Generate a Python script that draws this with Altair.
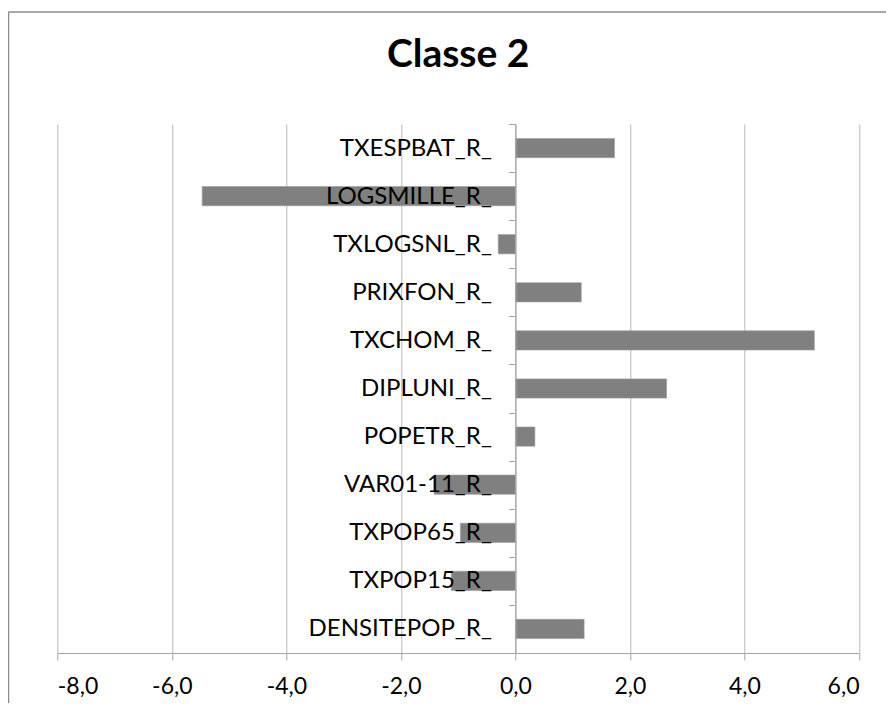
import altair as alt
import pandas as pd

categories = ["TXESPBAT_R_", "LOGSMILLE_R_", "TXLOGSNL_R_", "PRIXFON_R_", "TXCHOM_R_",
              "DIPLUNI_R_", "POPETR_R_", "VAR01-11_R_", "TXPOP65_R_", "TXPOP15_R_",
              "DENSITEPOP_R_"]
values = [1.73, -5.47, -0.30, 1.15, 5.22, 2.64, 0.34, -1.42, -0.96, -1.12, 1.20]
x_ticks = [-8, -6, -4, -2, 0, 2, 4, 6]
title_text = "Classe 2"

df = pd.DataFrame({"cat": categories, "val": values})

W = 801.7
H = 529.0
step = H / len(categories)
unit = W / 14.0

FONT = "Lato"

bars = alt.Chart(df).mark_bar(color="#808080", stroke="#9a9a9a", strokeWidth=0.6).encode(
    x=alt.X("val:Q",
            scale=alt.Scale(domain=[-8, 6], nice=False, zero=False),
            axis=alt.Axis(values=x_ticks, title=None, grid=True, gridColor="#b8b8b8",
                          gridWidth=1, domainColor="#a6a6a6", domainWidth=1.2,
                          tickColor="#a6a6a6", tickSize=7, labelPadding=15,
                          labelFont=FONT, labelFontSize=23, labelColor="#000000",
                          labelExpr="replace(replace(format(datum.value, '.1f'), '.', ','), '\u2212', '-')",
                          zindex=0)),
    y=alt.Y("cat:N", sort=categories,
            scale=alt.Scale(paddingInner=0.6, paddingOuter=0.3),
            axis=alt.Axis(title=None, grid=False, offset=-(8 * unit),
                          domainColor="#a6a6a6", domainWidth=1.2,
                          tickColor="#a6a6a6", tickSize=7, tickOffset=-step / 2,
                          labelOffset=step / 2, labelLimit=400,
                          labelPadding=17, labelFont=FONT, labelFontSize=24,
                          labelColor="#000000", zindex=1)),
)

one = pd.DataFrame({"f": [0]})
frame_left = alt.Chart(one).mark_rule(color="#8c8c8c", strokeWidth=1.5, clip=False).encode(
    x=alt.value(-48.8), y=alt.value(-112.0), y2=alt.value(H + 120),
)
frame_top = alt.Chart(one).mark_rule(color="#8c8c8c", strokeWidth=1.5, clip=False).encode(
    x=alt.value(-48.8), x2=alt.value(W + 40), y=alt.value(-112.0),
)
title = alt.Chart(pd.DataFrame({"t": [title_text]})).mark_text(
    font=FONT, fontSize=39, fontWeight="bold", color="#000000",
    align="center", baseline="alphabetic", clip=False
).encode(text="t:N", x=alt.value(W / 2), y=alt.value(-57))

chart = alt.layer(frame_left, frame_top, bars, title).properties(
    width=W, height=H,
    padding={"left": 49.3, "top": 116, "right": 27, "bottom": 50},
    autosize=alt.AutoSizeParams(type="none"),
).configure_view(stroke=None)

chart.save("out.html", embed_options={"renderer": "svg", "actions": False})
